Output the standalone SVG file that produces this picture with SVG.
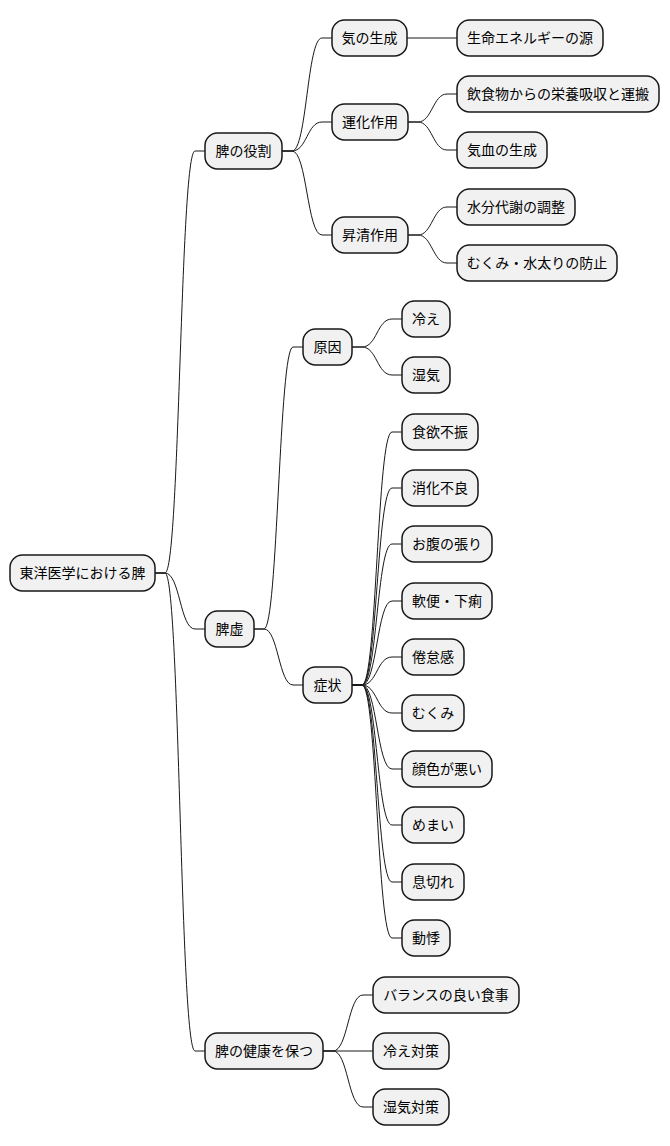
<svg xmlns="http://www.w3.org/2000/svg" width="670" height="1146" viewBox="0 0 670 1146">
<style>
.n rect{fill:#F1F1F1;stroke:#181818;stroke-width:1.5}
.n text{font-family:"Noto Sans CJK JP","Noto Sans",sans-serif;font-size:14px;fill:#000;text-anchor:middle}
#edges path{fill:none;stroke:#181818;stroke-width:1}
</style>
<rect width="670" height="1146" fill="#FFFFFF"/>
<g id="edges">
<path d="M155,573 L165,573 C180,573 180,151 195,151 L205,151"/>
<path d="M155,573 L165,573 C180,573 180,629 195,629 L205,629"/>
<path d="M155,573 L165,573 C180,573 180,1051 195,1051 L205,1051"/>
<path d="M282,151 L292,151 C307,151 307,38 322,38 L332,38"/>
<path d="M282,151 L292,151 C307,151 307,122 322,122 L332,122"/>
<path d="M282,151 L292,151 C307,151 307,235 322,235 L332,235"/>
<path d="M407,38 L457,38"/>
<path d="M408,122 L418,122 C432,122 433,94 447,94 L457,94"/>
<path d="M408,122 L418,122 C432,122 433,150 447,150 L457,150"/>
<path d="M408,235 L418,235 C432,235 433,207 447,207 L457,207"/>
<path d="M408,235 L418,235 C432,235 433,263 447,263 L457,263"/>
<path d="M254,629 L264,629 C278,629 279,347 293,347 L303,347"/>
<path d="M254,629 L264,629 C278,629 279,685 293,685 L303,685"/>
<path d="M352,347 L362,347 C377,347 377,319 392,319 L402,319"/>
<path d="M352,347 L362,347 C377,347 377,375 392,375 L402,375"/>
<path d="M352,685 L362,685 C377,685 377,432 392,432 L402,432"/>
<path d="M352,685 L362,685 C377,685 377,488 392,488 L402,488"/>
<path d="M352,685 L362,685 C377,685 377,544 392,544 L402,544"/>
<path d="M352,685 L362,685 C377,685 377,601 392,601 L402,601"/>
<path d="M352,685 L362,685 C377,685 377,657 392,657 L402,657"/>
<path d="M352,685 L362,685 C377,685 377,713 392,713 L402,713"/>
<path d="M352,685 L362,685 C377,685 377,769 392,769 L402,769"/>
<path d="M352,685 L362,685 C377,685 377,825 392,825 L402,825"/>
<path d="M352,685 L362,685 C377,685 377,882 392,882 L402,882"/>
<path d="M352,685 L362,685 C377,685 377,938 392,938 L402,938"/>
<path d="M323,1051 L333,1051 C348,1051 348,995 363,995 L373,995"/>
<path d="M323,1051 L373,1051"/>
<path d="M323,1051 L333,1051 C348,1051 348,1107 363,1107 L373,1107"/>
</g>
<g id="root" class="n"><rect x="10" y="555" width="145" height="36" rx="12.5"/><text x="82.5" y="578">東洋医学における脾</text></g>
<g id="role" class="n"><rect x="205" y="133" width="77" height="36" rx="12.5"/><text x="243.5" y="156">脾の役割</text></g>
<g id="qi" class="n"><rect x="332" y="20" width="75" height="36" rx="12.5"/><text x="369.5" y="43">気の生成</text></g>
<g id="energy" class="n"><rect x="457" y="20" width="146" height="36" rx="12.5"/><text x="530" y="43">生命エネルギーの源</text></g>
<g id="unka" class="n"><rect x="332" y="104" width="76" height="36" rx="12.5"/><text x="370" y="127">運化作用</text></g>
<g id="absorb" class="n"><rect x="457" y="76" width="202" height="36" rx="12.5"/><text x="558" y="99">飲食物からの栄養吸収と運搬</text></g>
<g id="kiketsu" class="n"><rect x="457" y="132" width="90" height="36" rx="12.5"/><text x="502" y="155">気血の生成</text></g>
<g id="shosei" class="n"><rect x="332" y="217" width="76" height="36" rx="12.5"/><text x="370" y="240">昇清作用</text></g>
<g id="water" class="n"><rect x="457" y="189" width="118" height="36" rx="12.5"/><text x="516" y="212">水分代謝の調整</text></g>
<g id="edema1" class="n"><rect x="457" y="245" width="160" height="36" rx="12.5"/><text x="537" y="268">むくみ・水太りの防止</text></g>
<g id="hikyo" class="n"><rect x="205" y="611" width="49" height="36" rx="12.5"/><text x="229.5" y="634">脾虚</text></g>
<g id="cause" class="n"><rect x="303" y="329" width="49" height="36" rx="12.5"/><text x="327.5" y="352">原因</text></g>
<g id="cold" class="n"><rect x="402" y="301" width="48" height="36" rx="12.5"/><text x="426" y="324">冷え</text></g>
<g id="damp" class="n"><rect x="402" y="357" width="48" height="36" rx="12.5"/><text x="426" y="380">湿気</text></g>
<g id="symptom" class="n"><rect x="303" y="667" width="49" height="36" rx="12.5"/><text x="327.5" y="690">症状</text></g>
<g id="s1" class="n"><rect x="402" y="414" width="76" height="36" rx="12.5"/><text x="440" y="437">食欲不振</text></g>
<g id="s2" class="n"><rect x="402" y="470" width="76" height="36" rx="12.5"/><text x="440" y="493">消化不良</text></g>
<g id="s3" class="n"><rect x="402" y="526" width="90" height="36" rx="12.5"/><text x="447" y="549">お腹の張り</text></g>
<g id="s4" class="n"><rect x="402" y="583" width="90" height="36" rx="12.5"/><text x="447" y="606">軟便・下痢</text></g>
<g id="s5" class="n"><rect x="402" y="639" width="62" height="36" rx="12.5"/><text x="433" y="662">倦怠感</text></g>
<g id="s6" class="n"><rect x="402" y="695" width="62" height="36" rx="12.5"/><text x="433" y="718">むくみ</text></g>
<g id="s7" class="n"><rect x="402" y="751" width="90" height="36" rx="12.5"/><text x="447" y="774">顔色が悪い</text></g>
<g id="s8" class="n"><rect x="402" y="807" width="62" height="36" rx="12.5"/><text x="433" y="830">めまい</text></g>
<g id="s9" class="n"><rect x="402" y="864" width="62" height="36" rx="12.5"/><text x="433" y="887">息切れ</text></g>
<g id="s10" class="n"><rect x="402" y="920" width="48" height="36" rx="12.5"/><text x="426" y="943">動悸</text></g>
<g id="keep" class="n"><rect x="205" y="1033" width="118" height="36" rx="12.5"/><text x="264" y="1056">脾の健康を保つ</text></g>
<g id="k1" class="n"><rect x="373" y="977" width="146" height="36" rx="12.5"/><text x="446" y="1000">バランスの良い食事</text></g>
<g id="k2" class="n"><rect x="373" y="1033" width="76" height="36" rx="12.5"/><text x="411" y="1056">冷え対策</text></g>
<g id="k3" class="n"><rect x="373" y="1089" width="76" height="36" rx="12.5"/><text x="411" y="1112">湿気対策</text></g>
</svg>
